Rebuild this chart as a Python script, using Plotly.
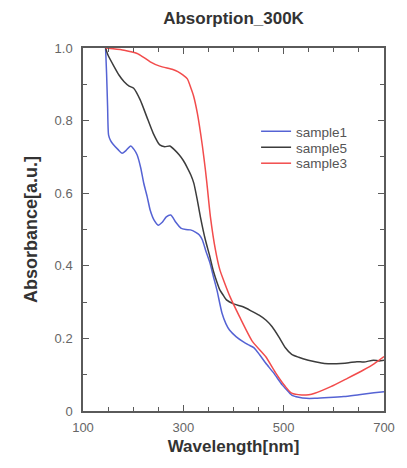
import plotly.graph_objects as go

# ---- data ----
wl_s1 = [145, 147, 149, 151, 155, 160, 170, 178, 186, 195, 202, 208, 215, 221, 228, 234, 242, 250,
         258, 266, 275, 285, 295, 305, 314, 324, 332, 338, 345, 353, 360, 367, 377, 385, 392, 405,
         419, 430, 441, 452, 464, 480, 497, 505, 516, 530, 545, 562, 590, 620, 650, 680, 700]
abs_s1 = [1.0, 0.93, 0.84, 0.76, 0.745, 0.735, 0.72, 0.71, 0.718, 0.73, 0.72, 0.705, 0.67, 0.628,
          0.59, 0.553, 0.525, 0.512, 0.52, 0.535, 0.54, 0.52, 0.504, 0.5, 0.499, 0.493, 0.485, 0.471,
          0.44, 0.408, 0.37, 0.333, 0.27, 0.24, 0.223, 0.205, 0.191, 0.182, 0.174, 0.155, 0.132,
          0.105, 0.072, 0.06, 0.044, 0.038, 0.035, 0.035, 0.037, 0.04, 0.045, 0.05, 0.053]

wl_s5 = [145, 150, 162, 172, 182, 192, 201, 214, 227, 240, 253, 263, 273, 282, 292, 300, 308, 315,
         321, 328, 334, 344, 352, 360, 367, 373, 380, 386, 400, 419, 435, 451, 465, 477, 490, 503,
         516, 530, 549, 565, 581, 600, 614, 630, 646, 660, 679, 690, 700]
abs_s5 = [1.0, 0.98, 0.949, 0.925, 0.907, 0.895, 0.889, 0.857, 0.811, 0.765, 0.733, 0.728, 0.73,
          0.72, 0.705, 0.69, 0.67, 0.65, 0.627, 0.58, 0.535, 0.471, 0.43, 0.385, 0.355, 0.333, 0.318,
          0.306, 0.295, 0.287, 0.276, 0.264, 0.25, 0.232, 0.205, 0.175, 0.156, 0.148, 0.14, 0.135,
          0.131, 0.13, 0.131, 0.133, 0.136, 0.135, 0.14, 0.138, 0.14]

wl_s3 = [145, 160, 182, 208, 220, 234, 253, 279, 289, 299, 308, 315, 320, 328, 338, 344, 347, 354,
         364, 373, 380, 393, 412, 438, 464, 484, 503, 516, 536, 550, 562, 594, 627, 659, 680, 700]
abs_s3 = [1.0, 0.998, 0.994, 0.985, 0.975, 0.962, 0.95, 0.941, 0.935, 0.926, 0.915, 0.89, 0.87,
          0.82, 0.73, 0.664, 0.627, 0.535, 0.444, 0.388, 0.361, 0.315, 0.26, 0.191, 0.15, 0.105,
          0.068, 0.049, 0.044, 0.045, 0.049, 0.067, 0.09, 0.113, 0.13, 0.15]

series_names = ["sample1", "sample5", "sample3"]
x_tick_vals = [100, 300, 500, 700]
y_tick_vals = [0, 0.2, 0.4, 0.6, 0.8, 1.0]
y_tick_text = ["0", "0.2", "0.4", "0.6", "0.8", "1.0"]

colors = ["#5563d4", "#3c3c3c", "#f24c4c"]
FONT = "Liberation Sans, Arial, sans-serif"
AX = "#5a5a5a"

legend_ids = ["legend", "legend2", "legend3"]
legend_y = [0.770, 0.726, 0.682]

fig = go.Figure()
for xs, ys, name, col, lg in zip([wl_s1, wl_s5, wl_s3], [abs_s1, abs_s5, abs_s3],
                                 series_names, colors, legend_ids):
    fig.add_trace(go.Scatter(x=xs, y=ys, mode="lines", name=name, legend=lg, showlegend=True,
                             line=dict(color=col, width=1.5, shape="spline", smoothing=0.6)))

legend_style = dict(x=0.575, xanchor="left", yanchor="middle", bgcolor="rgba(0,0,0,0)",
                    font=dict(family=FONT, size=13.5, color="#555555"),
                    borderwidth=0, itemwidth=30, visible=True)

fig.update_layout(
    width=407, height=468,
    margin=dict(l=83, r=16, t=48, b=57),
    paper_bgcolor="white", plot_bgcolor="white",
    showlegend=True,
    font=dict(family=FONT, color="#444444"),
    title=dict(text="<b>Absorption_300K</b>", x=0.5, xref="paper", xanchor="center",
               y=1 - 18 / 468, yanchor="middle",
               font=dict(family=FONT, size=17, color="#333333")),
    legend=dict(y=legend_y[0], **legend_style),
    legend2=dict(y=legend_y[1], **legend_style),
    legend3=dict(y=legend_y[2], **legend_style),
)

fig.update_xaxes(
    range=[100, 700], tickvals=x_tick_vals, ticks="inside", ticklen=6, tickwidth=1.3,
    tickcolor=AX, showline=True, linecolor=AX, linewidth=1.5, mirror="allticks",
    showgrid=False, zeroline=False, ticklabelstandoff=4,
    minor=dict(dtick=50, ticks="inside", ticklen=4, tickwidth=1.3, tickcolor=AX, showgrid=False),
    tickfont=dict(family=FONT, size=13, color="#666666"),
    title=dict(text="<b>Wavelength[nm]</b>", standoff=6,
               font=dict(family=FONT, size=17, color="#333333")),
)
fig.update_yaxes(
    range=[0, 1], tickvals=y_tick_vals, ticktext=y_tick_text, ticks="inside", ticklen=6,
    tickwidth=1.3, tickcolor=AX, showline=True, linecolor=AX, linewidth=1.5, mirror="allticks",
    showgrid=False, zeroline=False, ticklabelstandoff=6,
    minor=dict(dtick=0.1, ticks="inside", ticklen=4, tickwidth=1.3, tickcolor=AX, showgrid=False),
    tickfont=dict(family=FONT, size=13, color="#666666"),
    title=dict(text="<b>Absorbance[a.u.]</b>", standoff=12,
               font=dict(family=FONT, size=18, color="#333333")),
)

fig.write_html("out.html")
